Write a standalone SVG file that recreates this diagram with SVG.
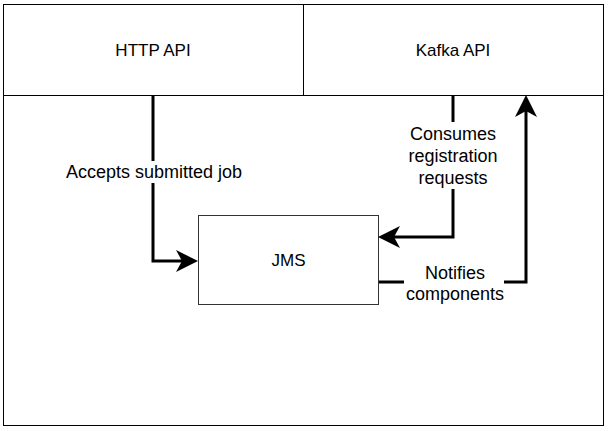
<svg xmlns="http://www.w3.org/2000/svg" width="612" height="431" viewBox="0 0 612 431">
<style>
.box{fill:#fff;stroke:#000;stroke-width:1}
.lbl{font-family:"Liberation Sans",Arial,sans-serif;font-size:17px;fill:#000;text-anchor:middle}
.elbl{font-family:"Liberation Sans",Arial,sans-serif;font-size:18px;fill:#000;text-anchor:middle}
.edge{fill:none;stroke:#000;stroke-width:3;marker-end:url(#arr)}
.bg{fill:#fff}
</style>
<defs>
<marker id="arr" markerUnits="userSpaceOnUse" markerWidth="24" markerHeight="24" refX="6" refY="12" orient="auto" overflow="visible">
<path d="M0,1 L22,12 L0,23 L6,12 Z" fill="#000"/>
</marker>
</defs>
<rect width="612" height="431" fill="#fff"/>
<g id="container">
<rect class="box" x="3.5" y="95.5" width="600" height="330"/>
</g>
<g id="http-api">
<rect class="box" x="3.5" y="4.5" width="300" height="91"/>
<text class="lbl" x="153" y="56">HTTP API</text>
</g>
<g id="kafka-api">
<rect class="box" x="303.5" y="4.5" width="300" height="91"/>
<text class="lbl" x="453" y="56">Kafka API</text>
</g>
<g id="jms">
<rect class="box" x="198.5" y="215.5" width="180" height="89" style="stroke:#333"/>
<text class="lbl" x="288.5" y="266">JMS</text>
</g>
<g id="connectors">
<path class="edge" d="M153,96 V261 H182"/>
<path class="edge" d="M453,96 V237 H394"/>
<path class="edge" d="M379,282 H526 V111"/>
<rect class="bg" x="63" y="161" width="182" height="22"/>
<text class="elbl" x="154" y="178">Accepts submitted job</text>
<rect class="bg" x="405" y="122" width="96" height="67"/>
<text class="elbl" x="453" y="140">Consumes</text>
<text class="elbl" x="453" y="162">registration</text>
<text class="elbl" x="453" y="184">requests</text>
<rect class="bg" x="404" y="262" width="100" height="42"/>
<text class="elbl" x="455" y="279">Notifies</text>
<text class="elbl" x="455" y="300">components</text>
</g>
</svg>
